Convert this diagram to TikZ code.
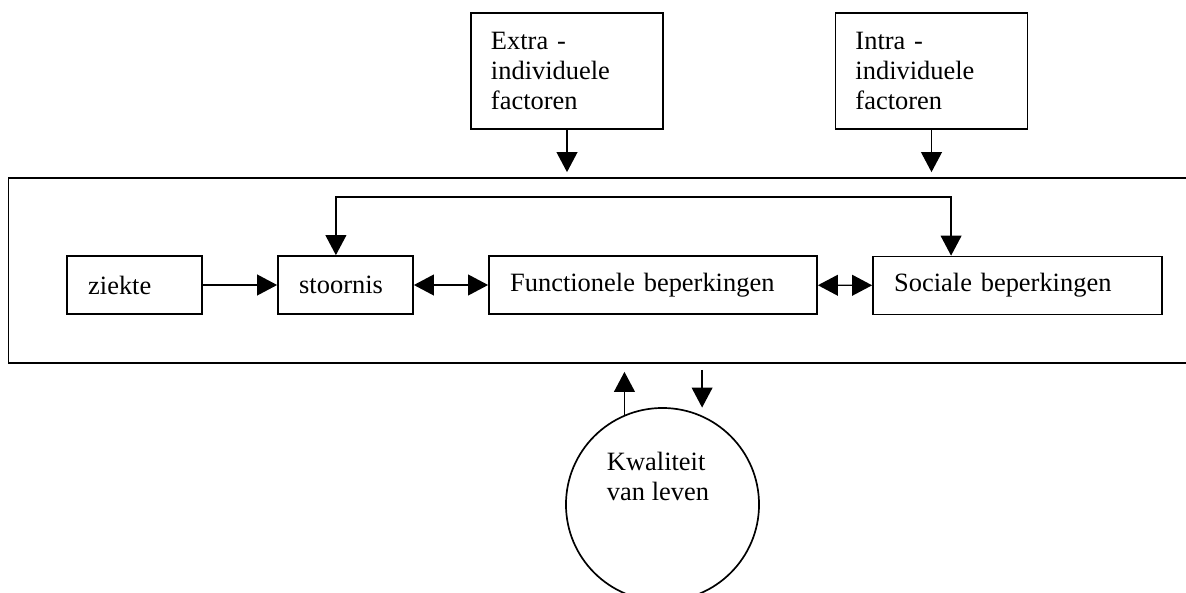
\documentclass[tikz,border=0pt]{standalone}
\usepackage{fontspec}
\setmainfont{Liberation Serif}
\usepackage{tikz}
\usetikzlibrary{shapes}
\usetikzlibrary{arrows.meta}
\tikzset{
  model_text/.style = {font=\fontsize{18.8}{21.3}\selectfont},
  box_node/.style = {model_text, rectangle, draw=black, line width=1.2pt,
    align=left, inner ysep=0pt, inner xsep=0.53cm},
  factor_node/.style = {box_node, minimum height=2.9cm, inner xsep=0.5cm,
    text width=3.8cm},% blokken bovenaan
  stage_node/.style = {box_node, minimum height=1.45cm},% blokken in het model
  context_node/.style = {rectangle, draw=black, line width=1.2pt,
    minimum width=29.6cm, minimum height=4.625cm},% groot kader
  life_node/.style = {circle, draw=black, line width=1.2pt,
    minimum size=4.825cm},% cirkel onderaan
  link/.style = {line width=1pt,
    >={Triangle[length=0.5cm, width=0.52cm]}}
}
\begin{document}
\begin{tikzpicture}[x=0.025cm, y=-0.025cm]
  \useasboundingbox (0,0) rectangle (1186,593);
  \node [context_node] (context) at (600.5,270.5) {};
  \node [factor_node] (extra) at (567,71) {Extra -\\individuele\\factoren};
  \node [factor_node] (intra) at (931.5,71) {Intra -\\individuele\\factoren};
  \node [stage_node, text width=2.315cm] (ziekte) at (134.5,285) {ziekte};
  \node [stage_node, text width=2.315cm] (stoornis) at (345.5,285) {stoornis};
  \node [stage_node, text width=7.14cm] (functioneel) at (653,285) {Functionele beperkingen};
  \node [stage_node, text width=6.165cm] (sociaal) at (1017.5,285.5) {Sociale beperkingen};
  \node [life_node] (kwaliteit) at (662.5,504.5) {};
  \node [model_text, align=left] (kwaliteit_tekst) at (658,476) {Kwaliteit\\van leven};
  \coordinate (bar) at (0,197);

  \draw [link, ->] (extra.south) -- ([yshift=0.125cm]extra.south |- context.north);
  \draw [link, ->] (intra.south) -- ([yshift=0.125cm]intra.south |- context.north);
  \draw [link, ->] (ziekte) -- (stoornis);
  \draw [link, <->] (stoornis) -- (functioneel);
  \draw [link, <->] (functioneel) -- (sociaal);
  \draw [link, <->] ([xshift=-0.24cm]stoornis.north)
    -- ([xshift=-0.24cm]stoornis.north |- bar) -| ([xshift=-1.66cm]sociaal.north);
  \draw [link, ->] (kwaliteit.113) -- ([yshift=-0.2cm]kwaliteit.113 |- context.south);
  \draw [link, ->] ([yshift=-0.15cm]kwaliteit.66 |- context.south) -- ([yshift=0.2cm]kwaliteit.66);
\end{tikzpicture}
\end{document}
